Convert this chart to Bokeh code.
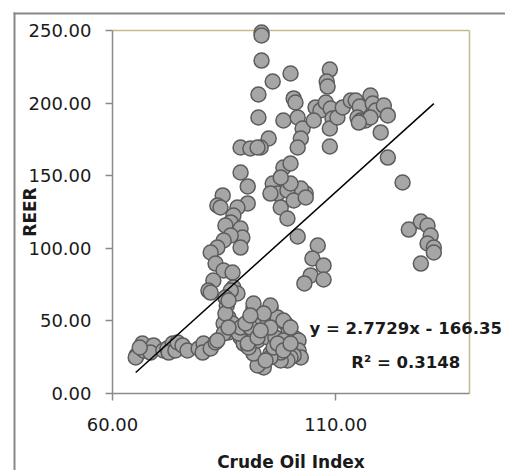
from bokeh.plotting import figure
from bokeh.models import Range1d, FixedTicker, NumeralTickFormatter, Label, ColumnDataSource, LinearAxis
from bokeh.embed import file_html
from bokeh.resources import INLINE

# Data
crude_oil_index = [
    93.4, 93.4, 93.4, 92.7, 92.7, 95.9, 99.9, 98.3, 100.6, 101.0, 101.5, 108.7, 108.0, 108.2,
    102.6, 102.2, 101.5, 95.0, 93.2, 88.7, 90.9, 92.5, 88.7, 90.3, 90.3, 84.7, 83.5, 88.0,
    95.9, 97.0, 98.3, 105.5, 106.6, 107.8, 108.9, 109.3, 108.7, 108.7, 110.4, 111.6, 113.4,
    114.5, 115.4, 114.9, 115.6, 116.7, 117.8, 118.3, 119.0, 117.8, 120.8, 121.7, 120.1, 105.1,
    115.2, 103.3, 102.2, 99.2, 99.9, 97.7, 99.9, 95.4, 97.7, 99.2, 100.6, 103.3,
    121.7, 125.0, 126.4, 129.1, 130.6, 131.3, 130.6, 132.0, 132.0, 129.1,
    101.5, 106.0, 104.8, 107.3, 104.4, 103.0, 107.3,
    84.2, 87.1, 86.5, 85.3, 88.7, 89.1, 88.7, 86.5, 84.9, 83.5, 82.0, 83.1, 84.9, 86.9, 82.6,
    81.5, 87.1, 88.0, 86.5, 85.6, 85.3, 82.0, 86.0, 86.9, 84.9, 86.0, 84.9, 85.3, 88.7, 89.4,
    88.3, 88.7, 86.0,
    65.4, 65.2, 66.7, 67.0, 69.2, 68.5, 71.4, 72.3, 73.5, 72.6, 74.1, 74.6, 75.7, 76.8, 79.3,
    80.4, 80.2, 82.0, 83.1, 83.5, 86.0, 66.1,
    91.6, 91.4, 95.4, 95.4, 93.9, 91.6, 97.0, 98.8, 99.5, 101.0, 101.7, 101.7, 102.2, 100.6,
    99.9, 99.2, 97.7, 97.7, 95.4, 95.4, 93.9, 92.5, 91.6, 92.5, 94.8, 96.5, 98.3, 96.1, 90.5,
    90.3, 90.9, 92.5, 95.4, 97.0, 98.3, 98.3, 99.9, 91.6, 95.4, 93.9, 93.2, 99.9, 94.3, 89.8,
    90.9,
]
reer = [
    248.6, 246.6, 229.3, 205.9, 190.1, 214.9, 220.4, 188.0, 203.2, 200.4, 190.1, 223.1, 214.9, 211.4,
    182.5, 175.6, 169.4, 175.6, 169.4, 169.4, 168.7, 169.4, 152.2, 142.6, 130.9, 136.4, 129.5, 128.1,
    144.6, 137.7, 155.6, 197.0, 194.9, 200.4, 196.3, 189.4, 182.5, 170.1, 190.1, 197.0, 201.8,
    201.8, 197.6, 190.1, 188.0, 188.0, 205.2, 199.7, 194.9, 190.1, 198.3, 191.5, 179.8, 188.0,
    186.6, 137.7, 141.2, 139.8, 144.6, 148.8, 158.4, 137.7, 128.1, 120.5, 132.9, 135.0,
    162.5, 145.3, 112.9, 118.4, 115.7, 108.8, 103.3, 100.5, 97.1, 89.5,
    108.1, 101.9, 93.0, 88.2, 81.3, 75.8, 78.5,
    128.1, 122.6, 117.8, 115.7, 113.6, 107.4, 100.5, 108.8, 105.4, 100.5, 97.1, 89.5, 84.7, 83.3, 77.8,
    70.9, 73.0, 68.9, 70.9, 60.6, 66.1, 69.5, 52.3, 48.2, 48.2, 42.0, 41.3, 55.1, 38.6, 34.4,
    41.3, 45.4, 64.0,
    26.2, 24.8, 34.4, 29.6, 33.1, 28.2, 29.6, 31.0, 34.4, 28.2, 29.6, 35.1, 33.1, 29.6, 31.0,
    34.4, 28.2, 31.0, 35.1, 36.5, 45.4, 31.7,
    59.2, 55.1, 59.2, 57.2, 48.2, 48.2, 52.3, 48.2, 43.4, 37.9, 36.5, 29.6, 24.8, 26.2,
    24.8, 22.7, 22.7, 28.2, 27.5, 24.8, 17.9, 19.3, 27.5, 36.5, 38.6, 38.6, 36.5, 31.7, 31.7,
    34.4, 45.4, 38.6, 45.4, 34.4, 29.6, 50.3, 45.4, 62.0, 60.6, 55.1, 43.4, 34.4, 22.7, 48.2,
    53.7,
]
trend_slope = 2.7729
trend_intercept = -166.35
r_squared = 0.3148
x_ticks = [60, 110]
y_ticks = [0, 50, 100, 150, 200, 250]
x_axis_limits = [60, 140]
y_axis_limits = [0, 250]

FONT = "DejaVu Sans"
AXIS_GRAY = "#8a8a8a"
TAN = "#c6b98e"
OUTER_GRAY = "#888888"

# layout (pixels): canvas size, plot-area corner, scale
W, H = 505, 470
PLOT_LEFT_PX, PLOT_BOTTOM_PX = 112, 393
PX_PER_X = 4.4625
PX_PER_Y = 1.452
BORDER_LEFT_PX, BORDER_TOP_PX = 13, 12   # outer border (left / top edge, 2 px thick)

x_start = x_axis_limits[0] - PLOT_LEFT_PX / PX_PER_X
y_start = y_axis_limits[0] - (H - PLOT_BOTTOM_PX) / PX_PER_Y
xr = Range1d(x_start, x_start + W / PX_PER_X)
yr = Range1d(y_start, y_start + H / PX_PER_Y)

p = figure(width=W, height=H, output_backend="svg", toolbar_location=None,
           x_range=xr, y_range=yr, x_axis_type=None, y_axis_type=None, min_border=0)
p.outline_line_color = None
p.grid.visible = False
p.background_fill_color = "white"
p.border_fill_color = "white"

# outer chart-area border: gray strips along the left and the top
bx0 = x_start + BORDER_LEFT_PX / PX_PER_X
bx1 = x_start + (BORDER_LEFT_PX + 2) / PX_PER_X
by0 = yr.end - BORDER_TOP_PX / PX_PER_Y
by1 = yr.end - (BORDER_TOP_PX + 2) / PX_PER_Y
p.quad(left=[bx0, bx0], right=[bx1, xr.end], top=[by0, by0], bottom=[yr.start, by1],
       fill_color=OUTER_GRAY, line_color=None)

xaxis = LinearAxis(fixed_location=y_axis_limits[0], bounds=tuple(x_axis_limits),
                   ticker=FixedTicker(ticks=x_ticks), axis_label="Crude Oil Index")
yaxis = LinearAxis(fixed_location=x_axis_limits[0], bounds=tuple(y_axis_limits),
                   ticker=FixedTicker(ticks=y_ticks), axis_label="REER")
for ax in (xaxis, yaxis):
    ax.formatter = NumeralTickFormatter(format="0.00")
    ax.axis_line_color = AXIS_GRAY
    ax.axis_line_width = 1.5
    ax.major_tick_line_color = AXIS_GRAY
    ax.major_tick_line_width = 1.5
    ax.major_tick_out = 7
    ax.major_tick_in = 0
    ax.minor_tick_line_color = None
    ax.major_label_text_font = FONT
    ax.major_label_text_font_size = "18px"
    ax.major_label_text_color = "#1a1a1a"
    ax.axis_label_text_font = FONT
    ax.axis_label_text_font_size = "17px"
    ax.axis_label_text_font_style = "bold"
    ax.axis_label_text_color = "#1a1a1a"
xaxis.major_label_standoff = 17
xaxis.axis_label_standoff = 18
yaxis.major_label_standoff = 14
yaxis.axis_label_standoff = -14
p.add_layout(xaxis, "below")
p.add_layout(yaxis, "left")

# plot-area border: tan top and right
p.line(x_axis_limits, [y_axis_limits[1]] * 2, line_color=TAN, line_width=1.5)
p.line([x_axis_limits[1]] * 2, y_axis_limits, line_color=TAN, line_width=1.5)

src = ColumnDataSource(dict(x=crude_oil_index, y=reer))
p.scatter("x", "y", source=src, size=15, fill_color="#a6a6a6", line_color="#5c5c5c", line_width=1.5)

x0 = min(crude_oil_index)
x1 = max(crude_oil_index)
p.line([x0, x1], [trend_slope * x0 + trend_intercept, trend_slope * x1 + trend_intercept],
       line_color="black", line_width=1.5)

eq1 = "y = %.4fx - %.2f" % (trend_slope, -trend_intercept)
eq2 = "R\u00b2 = %.4f" % r_squared
for txt, yy in ((eq1, 44.8), (eq2, 21.3)):
    p.add_layout(Label(x=125.7, y=yy, text=txt, text_align="center", text_baseline="middle",
                       text_font=FONT, text_font_size="16.5px", text_font_style="bold",
                       text_color="#1a1a1a"))

open("out.html", "w").write(file_html(p, INLINE))
